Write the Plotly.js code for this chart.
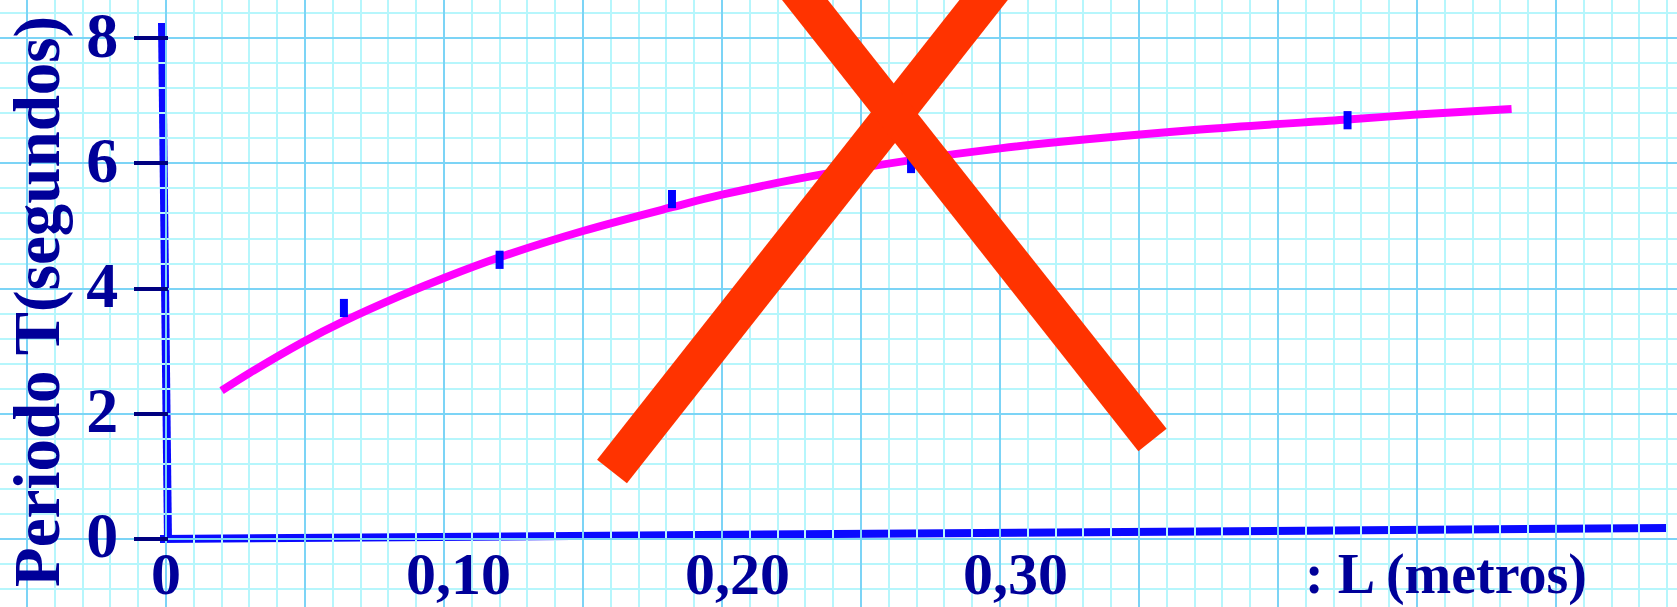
<!DOCTYPE html>
<html>
<head>
<meta charset="utf-8">
<script src="https://cdn.plot.ly/plotly-3.0.1.min.js"></script>
<style>
  html, body { margin: 0; padding: 0; background: #ffffff; overflow: hidden; }
  #chart { width: 1677px; height: 607px; }
</style>
</head>
<body>
<div id="chart"></div>
<script>
// Measured pendulum periods: length L (m) and period T (s)
const lengthsM = [0.064, 0.120, 0.182, 0.268, 0.425];
const periodsS = [3.69, 4.46, 5.43, 5.99, 6.69];

// Hand-drawn trend curve through the measurements
const curveLengths = [0.020, 0.030, 0.049, 0.064, 0.084, 0.100, 0.120, 0.150, 0.182, 0.200, 0.238, 0.300, 0.372, 0.425, 0.450, 0.484];
const curvePeriods = [2.37, 2.65, 3.14, 3.48, 3.88, 4.17, 4.50, 4.92, 5.30, 5.50, 5.84, 6.24, 6.54, 6.70, 6.78, 6.87];

// Axis ticks and labels
const xTickVals = [0, 0.10, 0.20, 0.30];
const xTickText = ['0', '0,10', '0,20', '0,30'];
const yTickVals = [0, 2, 4, 6, 8];
const yTickText = ['0', '2', '4', '6', '8'];

const xTitle = ': L (metros)';
const yTitle = 'Periodo T(segundos)';

// ---- drawing ----
const W = 1677, H = 607;
const px = v => v / W;          // pixel column -> paper x
const py = v => 1 - v / H;      // pixel row    -> paper y

const NAVY = '#000099';
const AXIS_BLUE = '#0a0aff';
const serif = 'Liberation Serif, Times New Roman, serif';

const traces = [
  {
    x: curveLengths, y: curvePeriods,
    type: 'scatter', mode: 'lines',
    line: { color: '#ff00ff', width: 8, shape: 'spline', smoothing: 1 },
    hoverinfo: 'skip'
  },
  {
    x: lengthsM, y: periodsS,
    type: 'scatter', mode: 'markers',
    marker: { symbol: 'line-ns', size: 13, color: '#0000ff',
              line: { color: '#0000ff', width: 8 } },
    hoverinfo: 'skip'
  }
];

const annotations = xTickVals.map((v, i) => ({
  x: v, xref: 'x', y: py(574), yref: 'paper',
  text: xTickText[i], showarrow: false,
  xanchor: 'center', yanchor: 'middle',
  xshift: xTickText[i].includes(',') ? 15 : 0,
  font: { family: serif, size: 60, color: NAVY, weight: 'bold' }
}));

annotations.push({
  x: px(1446), xref: 'paper', y: py(574), yref: 'paper',
  text: xTitle, showarrow: false, xanchor: 'center', yanchor: 'middle',
  font: { family: serif, size: 56, color: NAVY, weight: 'bold' }
});

annotations.push({
  x: px(37), xref: 'paper', y: py(302), yref: 'paper',
  text: yTitle, showarrow: false, textangle: -90,
  xanchor: 'center', yanchor: 'middle',
  font: { family: serif, size: 65, color: NAVY, weight: 'bold' }
});

const shapes = [
  // hand-drawn axes
  { type: 'line', xref: 'paper', yref: 'paper', layer: 'between',
    x0: px(162), y0: py(23), x1: px(168), y1: py(542),
    line: { color: AXIS_BLUE, width: 8 } },
  { type: 'line', xref: 'paper', yref: 'paper', layer: 'between',
    x0: px(160), y0: py(539), x1: px(1668), y1: py(528),
    line: { color: AXIS_BLUE, width: 8 } },
  // crossing-out strokes
  { type: 'line', xref: 'paper', yref: 'paper', layer: 'above',
    x0: px(612), y0: py(471.5), x1: px(1023), y1: py(-50),
    line: { color: '#ff3300', width: 38 } },
  { type: 'line', xref: 'paper', yref: 'paper', layer: 'above',
    x0: px(765.5), y0: py(-50), x1: px(1152.5), y1: py(440),
    line: { color: '#ff3300', width: 36 } }
];

const layout = {
  width: W, height: H,
  margin: { l: 0, r: 0, t: 0, b: 0, pad: 0 },
  paper_bgcolor: '#ffffff', plot_bgcolor: '#ffffff',
  showlegend: false,
  xaxis: {
    range: [-0.0597, 0.5435], fixedrange: true,
    tick0: 0, dtick: 0.05, showgrid: true,
    gridcolor: '#7cd4f6', gridwidth: 2,
    minor: { dtick: 0.01, showgrid: true, gridcolor: '#b6f6fc', gridwidth: 2 },
    showticklabels: false, ticks: '', zeroline: false, showline: false
  },
  yaxis: {
    range: [-1.086, 8.610], fixedrange: true,
    anchor: 'free', position: px(168),
    tick0: 0, dtick: 2, showgrid: true,
    gridcolor: '#7cd4f6', gridwidth: 2,
    minor: { dtick: 0.4, showgrid: true, gridcolor: '#b6f6fc', gridwidth: 2 },
    tickmode: 'array', tickvals: yTickVals, ticktext: yTickText,
    ticks: 'outside', ticklen: 34, tickwidth: 4, tickcolor: '#000080',
    ticklabelstandoff: 3, ticklabelshift: -4, ticklabeloverflow: 'allow',
    tickfont: { family: serif, size: 64, color: NAVY, weight: 'bold' },
    zeroline: false, showline: false
  },
  annotations: annotations,
  shapes: shapes
};

Plotly.newPlot('chart', traces, layout, { displayModeBar: false, staticPlot: true });
</script>
</body>
</html>
